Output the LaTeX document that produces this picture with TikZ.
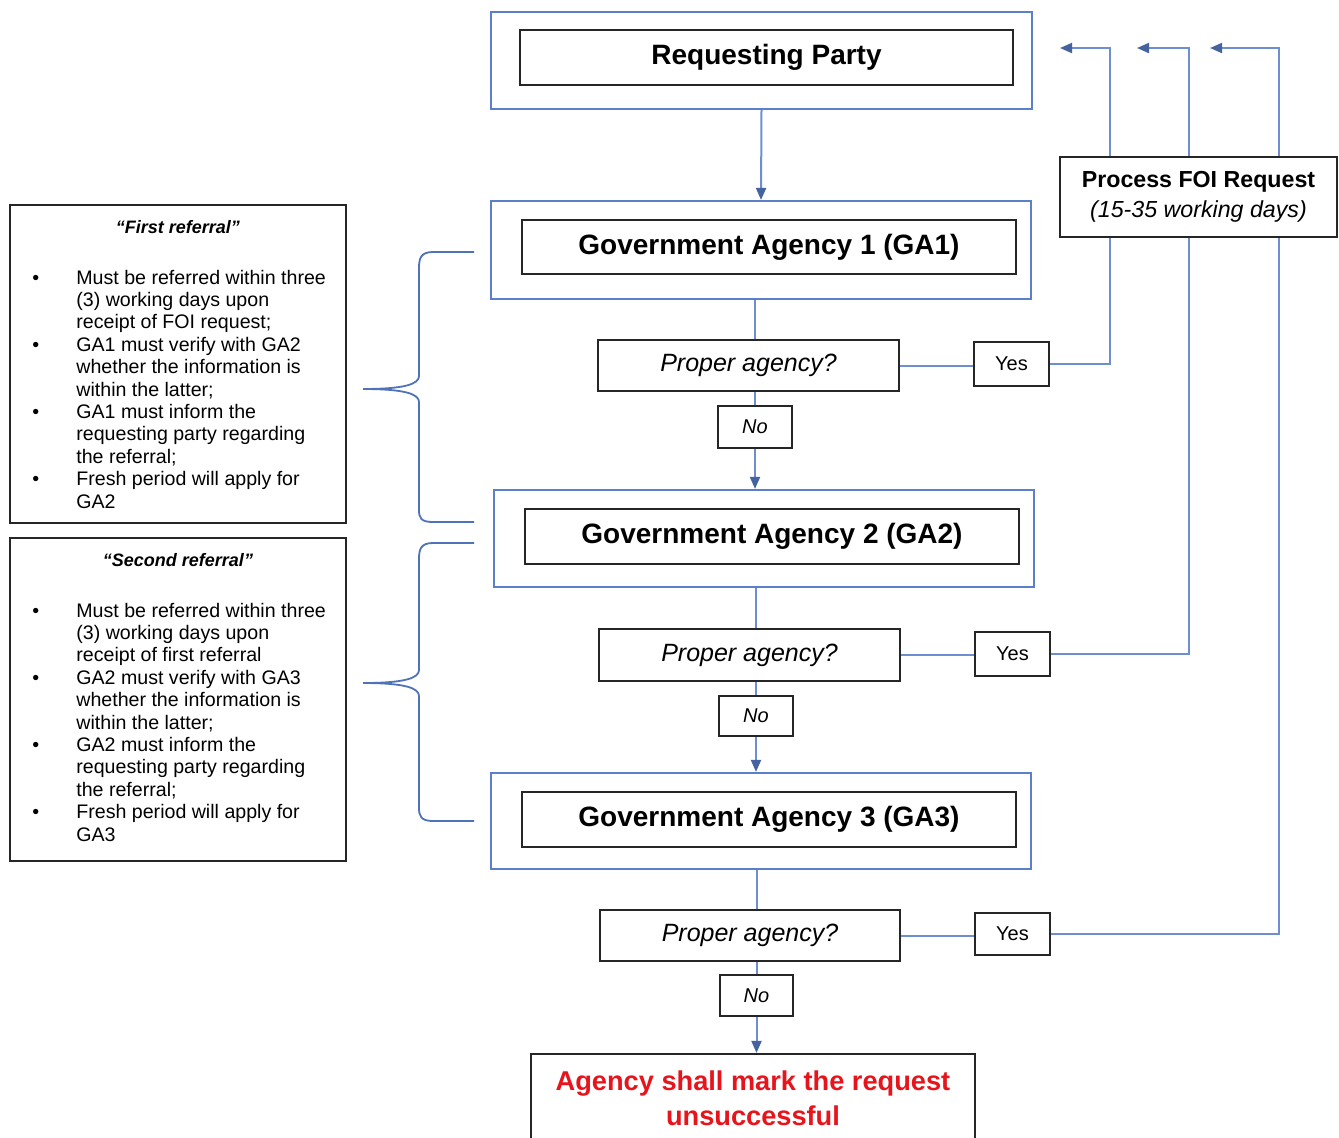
\documentclass[tikz,border=0pt]{standalone}
\usepackage{fontspec}
\setmainfont{Liberation Sans}
\usetikzlibrary{fit,arrows.meta}
\definecolor{bline}{HTML}{5B7FCB}
\definecolor{cline}{HTML}{6E8ED2}
\definecolor{tipc}{HTML}{44639F}
\definecolor{redtxt}{HTML}{E8141C}
\definecolor{bracec}{HTML}{4F72B8}
\begin{document}
\begin{tikzpicture}[x=0.5pt,y=-0.5pt,
  outer/.style={draw=bline, line width=1.1pt, inner sep=0pt, fill=white},
  inner/.style={draw=black!85, line width=1.2pt, inner sep=0pt,
     label={[inner sep=0pt, font=\fontsize{14}{16}\selectfont\bfseries]center:#1}},
  qbox/.style={draw=black!85, line width=1.1pt, inner sep=0pt, fill=white,
     label={[inner sep=0pt, font=\fontsize{12.5}{14}\selectfont\itshape]center:#1}},
  ybox/.style={draw=black!85, line width=1.1pt, inner sep=0pt, fill=white,
     label={[inner sep=0pt, font=\fontsize{10}{12}\selectfont]center:#1}},
  nbox/.style={draw=black!85, line width=1.1pt, inner sep=0pt, fill=white,
     label={[inner sep=0pt, font=\fontsize{10}{12}\selectfont\itshape]center:#1}},
  leftbox/.style={draw=black!85, line width=1.1pt, inner sep=0pt, fill=white},
  ltitle/.style={inner sep=0pt, font=\fontsize{9}{11}\selectfont\bfseries\itshape},
  bullets/.style={inner sep=0pt, anchor=north west, font=\fontsize{9.8}{11.2}\selectfont},
  conn/.style={draw=cline, line width=1pt},
  arr/.style={conn, -{Triangle[length=6pt,width=5pt,color=tipc]}},
  bracepath/.style={draw=bracec, line width=0.9pt},
]
\useasboundingbox (0,0) rectangle (1339,1137);
\clip (0,0) rectangle (1339,1137);
\fill[white] (0,0) rectangle (1339,1137);

% main column boxes
\node[outer, fit={(491,12) (1032,109)}] (rpo) {};
\node[inner={Requesting Party}, fit={(520,30) (1013,85)}] (rp) {};
\node[outer, fit={(491,201) (1031,299)}] (ga1o) {};
\node[inner={Government Agency 1 (GA1)}, fit={(522,220) (1016,274)}] (ga1) {};
\node[outer, fit={(494,490) (1034,587)}] (ga2o) {};
\node[inner={Government Agency 2 (GA2)}, fit={(525,509) (1019,564)}] (ga2) {};
\node[outer, fit={(491,773) (1031,869)}] (ga3o) {};
\node[inner={Government Agency 3 (GA3)}, fit={(522,792) (1016,847)}] (ga3) {};

% decisions
\node[qbox={Proper agency?}, fit={(598,340) (899,391)}] (pa1) {};
\node[qbox={Proper agency?}, fit={(599,629) (900,681)}] (pa2) {};
\node[qbox={Proper agency?}, fit={(600,910) (900,961)}] (pa3) {};
\node[nbox={No}, fit={(718,406) (792,448)}] (no1) {};
\node[nbox={No}, fit={(719,696) (793,736)}] (no2) {};
\node[nbox={No}, fit={(720,975) (793,1016)}] (no3) {};
\node[ybox={Yes}, fit={(974,342) (1049,386)}] (yes1) {};
\node[ybox={Yes}, fit={(975,632) (1050,676)}] (yes2) {};
\node[ybox={Yes}, fit={(975,913) (1050,955)}] (yes3) {};

% final box
\node[leftbox, fit={(531,1054) (975,1143)},
      label={[inner sep=0pt, align=center, text=redtxt, font=\fontsize{13.6}{17.5}\selectfont\bfseries]center:Agency shall mark the request\\unsuccessful}] (fin) {};

% connectors (main flow)
\draw[arr] (rpo.south) -- (ga1o.north);
\draw[conn] (ga1o.south -| no1.center) -- (pa1.north -| no1.center);
\draw[conn] (pa1.south -| no1.center) -- (no1.north);
\draw[arr] (no1.south) -- (ga2o.north -| no1.center);
\draw[conn] (ga2o.south -| no2.center) -- (pa2.north -| no2.center);
\draw[conn] (pa2.south -| no2.center) -- (no2.north);
\draw[arr] (no2.south) -- (ga3o.north -| no2.center);
\draw[conn] (ga3o.south -| no3.center) -- (pa3.north -| no3.center);
\draw[conn] (pa3.south -| no3.center) -- (no3.north);
\draw[arr] (no3.south) -- (fin.north -| no3.center);

% yes branches
\coordinate (c1) at (1110,48);
\coordinate (c2) at (1189,48);
\coordinate (c3) at (1279,48);
\coordinate (t1) at (1060,48);
\coordinate (t2) at (1137,48);
\coordinate (t3) at (1210,48);
\draw[conn] (pa1.east) -- (pa1.east -| yes1.west);
\draw[conn] (pa2.east) -- (pa2.east -| yes2.west);
\draw[conn] (pa3.east) -- (pa3.east -| yes3.west);
\draw[arr] (yes1.east) -| (c1) -- (t1);
\draw[arr] (yes2.east) -| (c2) -- (t2);
\draw[arr] (yes3.east) -| (c3) -- (t3);

% process box (over the lines)
\node[leftbox, fit={(1060,157) (1337,237)},
      label={[inner sep=0pt, align=center, font=\fontsize{11.6}{15}\selectfont]center:\textbf{Process FOI Request}\\\textit{(15-35 working days)}}] (proc) {};

% left referral boxes
\node[leftbox, fit={(10,205) (346,523)}] (ref1) {};
\node[ltitle] (ref1t) at (178,227) {“First referral”};
\node[bullets] (ref1b) at (32,268) {\begin{tabular}{@{}p{22pt}@{}l@{}}
\textbullet & Must be referred within three\\
 & (3) working days upon\\
 & receipt of FOI request;\\
\textbullet & GA1 must verify with GA2\\
 & whether the information is\\
 & within the latter;\\
\textbullet & GA1 must inform the\\
 & requesting party regarding\\
 & the referral;\\
\textbullet & Fresh period will apply for\\
 & GA2
\end{tabular}};

\node[leftbox, fit={(10,538) (346,861)}] (ref2) {};
\node[ltitle] (ref2t) at (178,560) {“Second referral”};
\node[bullets] (ref2b) at (32,601) {\begin{tabular}{@{}p{22pt}@{}l@{}}
\textbullet & Must be referred within three\\
 & (3) working days upon\\
 & receipt of first referral\\
\textbullet & GA2 must verify with GA3\\
 & whether the information is\\
 & within the latter;\\
\textbullet & GA2 must inform the\\
 & requesting party regarding\\
 & the referral;\\
\textbullet & Fresh period will apply for\\
 & GA3
\end{tabular}};

% braces
\draw[bracepath] (474,252) -- (433,252) .. controls (421,252) and (419,258) .. (419,268) -- (419,376) .. controls (419,384) and (405,389) .. (363,389) .. controls (405,389) and (419,394) .. (419,402) -- (419,510) .. controls (419,518) and (421,522) .. (433,522) -- (474,522);
\draw[bracepath] (474,543) -- (433,543) .. controls (421,543) and (419,549) .. (419,559) -- (419,670) .. controls (419,678) and (405,683) .. (363,683) .. controls (405,683) and (419,688) .. (419,696) -- (419,808) .. controls (419,816) and (421,821) .. (433,821) -- (474,821);
\end{tikzpicture}
\end{document}
